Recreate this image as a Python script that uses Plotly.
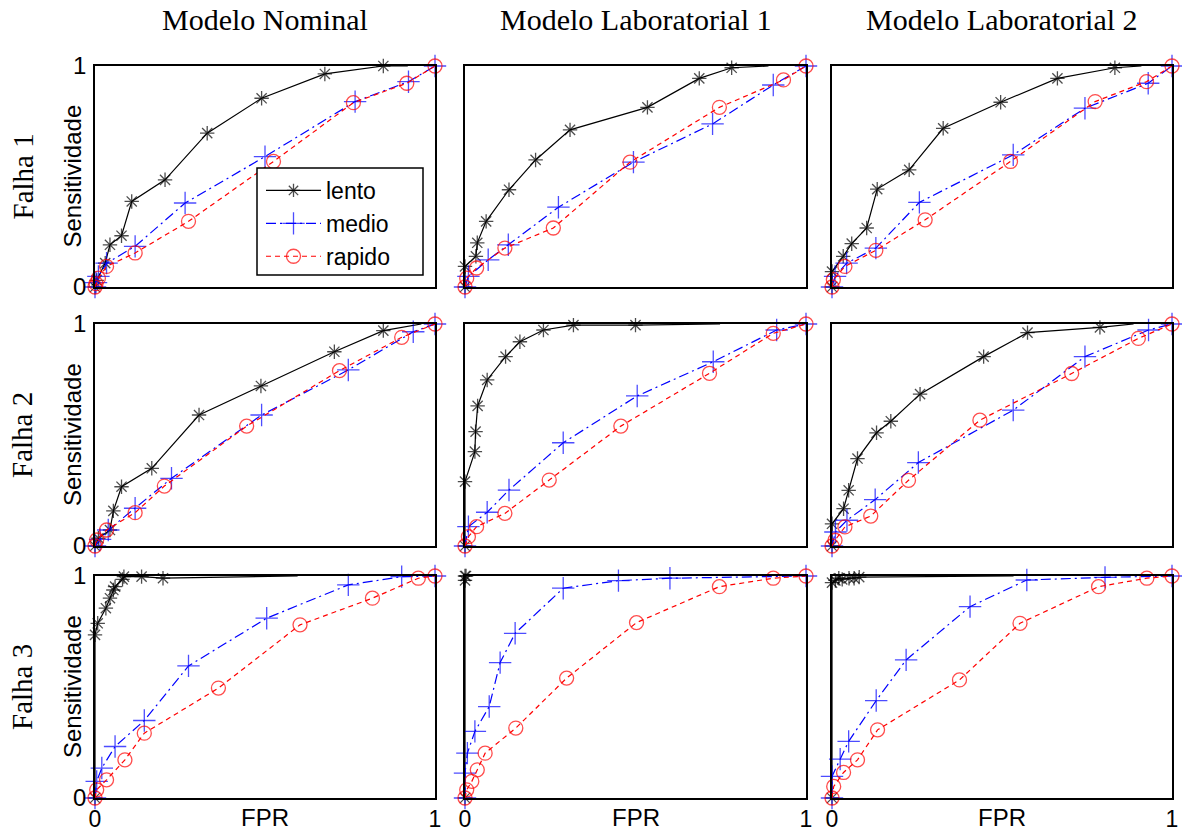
import plotly.graph_objects as go

# ---------------------------------------------------------------------------
# Page / labels
# ---------------------------------------------------------------------------
W, H = 1182, 834

MODELOS = ["Modelo Nominal", "Modelo Laboratorial 1", "Modelo Laboratorial 2"]
FALHAS = ["Falha 1", "Falha 2", "Falha 3"]
SERIES = ["lento", "medio", "rapido"]
TICK_VALS = [0, 1]
TICK_TEXT = ["0", "1"]
Y_LABEL = "Sensitividade"
X_LABEL = "FPR"

# ---------------------------------------------------------------------------
# ROC points (FPR, sensitividade) for each fault / model / speed.
# *_tail: FPR where the "lento" line ends along sens = 1 (no marker there).
# ---------------------------------------------------------------------------
# Falha 1 - Modelo Nominal
f1_nom_lento_fpr = [0, 0.005, 0.03, 0.044, 0.078, 0.108, 0.206, 0.33, 0.49, 0.676, 0.848]
f1_nom_lento_sens = [0, 0.03, 0.108, 0.191, 0.232, 0.387, 0.485, 0.696, 0.854, 0.964, 1.0]
f1_nom_lento_tail = 0.92
f1_nom_medio_fpr = [0, 0.003, 0.01, 0.034, 0.118, 0.265, 0.5, 0.765, 0.922, 1.0]
f1_nom_medio_sens = [0, 0.02, 0.048, 0.108, 0.184, 0.38, 0.59, 0.839, 0.929, 1.0]
f1_nom_rapido_fpr = [0, 0.003, 0.01, 0.034, 0.118, 0.275, 0.525, 0.76, 0.917, 1.0]
f1_nom_rapido_sens = [0, 0.015, 0.04, 0.093, 0.154, 0.297, 0.568, 0.834, 0.922, 1.0]

# Falha 1 - Modelo Laboratorial 1
f1_lab1_lento_fpr = [0, 0, 0.032, 0.036, 0.062, 0.129, 0.207, 0.308, 0.535, 0.687, 0.782]
f1_lab1_lento_sens = [0, 0.093, 0.139, 0.2, 0.297, 0.44, 0.575, 0.711, 0.813, 0.944, 0.992]
f1_lab1_lento_tail = 0.89
f1_lab1_medio_fpr = [0, 0.01, 0.068, 0.127, 0.274, 0.494, 0.726, 0.904, 1.0]
f1_lab1_medio_sens = [0, 0.048, 0.123, 0.191, 0.361, 0.565, 0.738, 0.914, 1.0]
f1_lab1_rapido_fpr = [0, 0.005, 0.034, 0.117, 0.259, 0.484, 0.746, 0.934, 1.0]
f1_lab1_rapido_sens = [0, 0.04, 0.086, 0.176, 0.267, 0.565, 0.813, 0.937, 1.0]

# Falha 1 - Modelo Laboratorial 2
f1_lab2_lento_fpr = [0, 0, 0.033, 0.058, 0.102, 0.133, 0.227, 0.327, 0.496, 0.663, 0.832]
f1_lab2_lento_sens = [0, 0.07, 0.139, 0.196, 0.267, 0.443, 0.53, 0.718, 0.836, 0.944, 0.992]
f1_lab2_lento_tail = 0.91
f1_lab2_medio_fpr = [0, 0.009, 0.043, 0.129, 0.257, 0.533, 0.744, 0.93, 1.0]
f1_lab2_medio_sens = [0, 0.048, 0.108, 0.176, 0.383, 0.598, 0.809, 0.922, 1.0]
f1_lab2_rapido_fpr = [0, 0.004, 0.038, 0.129, 0.274, 0.525, 0.774, 0.925, 1.0]
f1_lab2_rapido_sens = [0, 0.033, 0.093, 0.166, 0.304, 0.568, 0.839, 0.929, 1.0]

# Falha 2 - Modelo Nominal
f2_nom_lento_fpr = [0, 0.01, 0.044, 0.054, 0.078, 0.167, 0.306, 0.488, 0.704, 0.848]
f2_nom_lento_sens = [0, 0.035, 0.072, 0.158, 0.267, 0.35, 0.59, 0.721, 0.875, 0.97]
f2_nom_lento_tail = 0.96
f2_nom_medio_fpr = [0, 0.015, 0.039, 0.118, 0.225, 0.49, 0.745, 0.936, 1.0]
f2_nom_medio_sens = [0, 0.03, 0.072, 0.17, 0.305, 0.59, 0.793, 0.965, 1.0]
f2_nom_rapido_fpr = [0, 0.005, 0.034, 0.118, 0.204, 0.446, 0.719, 0.902, 1.0]
f2_nom_rapido_sens = [0, 0.027, 0.072, 0.15, 0.27, 0.54, 0.79, 0.94, 1.0]

# Falha 2 - Modelo Laboratorial 1
f2_lab1_lento_fpr = [0, 0, 0.029, 0.031, 0.037, 0.065, 0.119, 0.161, 0.23, 0.318, 0.5]
f2_lab1_lento_sens = [0, 0.29, 0.425, 0.515, 0.631, 0.748, 0.853, 0.92, 0.973, 0.995, 0.995]
f2_lab1_lento_tail = 0.748
f2_lab1_medio_fpr = [0, 0.01, 0.065, 0.129, 0.288, 0.505, 0.728, 0.914, 1.0]
f2_lab1_medio_sens = [0, 0.087, 0.152, 0.252, 0.465, 0.676, 0.83, 0.973, 1.0]
f2_lab1_rapido_fpr = [0, 0.01, 0.034, 0.117, 0.247, 0.457, 0.717, 0.904, 1.0]
f2_lab1_rapido_sens = [0, 0.042, 0.087, 0.147, 0.297, 0.54, 0.778, 0.958, 1.0]

# Falha 2 - Modelo Laboratorial 2
f2_lab2_lento_fpr = [0, 0, 0.034, 0.049, 0.075, 0.131, 0.173, 0.259, 0.446, 0.575, 0.788]
f2_lab2_lento_sens = [0, 0.1, 0.168, 0.251, 0.394, 0.51, 0.562, 0.684, 0.853, 0.961, 0.985]
f2_lab2_lento_tail = 0.887
f2_lab2_medio_fpr = [0, 0.01, 0.044, 0.127, 0.254, 0.533, 0.744, 0.931, 1.0]
f2_lab2_medio_sens = [0, 0.063, 0.116, 0.209, 0.376, 0.612, 0.853, 0.973, 1.0]
f2_lab2_rapido_fpr = [0, 0.009, 0.038, 0.114, 0.225, 0.435, 0.705, 0.901, 1.0]
f2_lab2_rapido_sens = [0, 0.026, 0.086, 0.135, 0.296, 0.567, 0.777, 0.935, 1.0]

# Falha 3 - Modelo Nominal
f3_nom_lento_fpr = [0, 0, 0.008, 0.032, 0.044, 0.054, 0.059, 0.081, 0.085, 0.137, 0.2]
f3_nom_lento_sens = [0, 0.735, 0.787, 0.855, 0.9, 0.937, 0.952, 0.985, 0.997, 0.997, 0.99]
f3_nom_lento_tail = 0.596
f3_nom_medio_fpr = [0, 0.005, 0.02, 0.059, 0.145, 0.275, 0.505, 0.745, 0.902, 1.0]
f3_nom_medio_sens = [0, 0.075, 0.135, 0.232, 0.349, 0.595, 0.81, 0.96, 0.997, 1.0]
f3_nom_rapido_fpr = [0, 0.005, 0.034, 0.088, 0.145, 0.363, 0.603, 0.816, 0.951, 1.0]
f3_nom_rapido_sens = [0, 0.037, 0.082, 0.172, 0.292, 0.495, 0.78, 0.9, 0.99, 1.0]

# Falha 3 - Modelo Laboratorial 1
f3_lab1_lento_fpr = [0, 0, 0, 0.003]
f3_lab1_lento_sens = [0, 0.98, 1.0, 1.0]
f3_lab1_lento_tail = None
f3_lab1_medio_fpr = [0, 0, 0.007, 0.029, 0.071, 0.103, 0.147, 0.288, 0.45, 0.601, 1.0]
f3_lab1_medio_sens = [0, 0.112, 0.202, 0.3, 0.412, 0.61, 0.742, 0.945, 0.979, 0.99, 1.0]
f3_lab1_rapido_fpr = [0, 0.005, 0.02, 0.036, 0.059, 0.149, 0.298, 0.503, 0.746, 0.904, 1.0]
f3_lab1_rapido_sens = [0, 0.037, 0.075, 0.127, 0.202, 0.315, 0.54, 0.79, 0.952, 0.99, 1.0]

# Falha 3 - Modelo Laboratorial 2
f3_lab2_lento_fpr = [0, 0, 0.01, 0.02, 0.03, 0.05, 0.065, 0.08]
f3_lab2_lento_sens = [0, 0.97, 0.98, 0.99, 0.985, 0.99, 0.99, 0.995]
f3_lab2_lento_tail = 0.534
f3_lab2_medio_fpr = [0, 0, 0.024, 0.049, 0.13, 0.218, 0.406, 0.573, 0.803, 1.0]
f3_lab2_medio_sens = [0, 0.097, 0.175, 0.255, 0.439, 0.622, 0.862, 0.982, 0.994, 1.0]
f3_lab2_rapido_fpr = [0, 0.005, 0.034, 0.075, 0.134, 0.375, 0.553, 0.784, 0.926, 1.0]
f3_lab2_rapido_sens = [0, 0.052, 0.115, 0.172, 0.307, 0.532, 0.787, 0.952, 0.99, 1.0]

# Grid of panels: rows = falhas, cols = modelos
PANELS = [
    [
        dict(lento=(f1_nom_lento_fpr, f1_nom_lento_sens, f1_nom_lento_tail),
             medio=(f1_nom_medio_fpr, f1_nom_medio_sens),
             rapido=(f1_nom_rapido_fpr, f1_nom_rapido_sens)),
        dict(lento=(f1_lab1_lento_fpr, f1_lab1_lento_sens, f1_lab1_lento_tail),
             medio=(f1_lab1_medio_fpr, f1_lab1_medio_sens),
             rapido=(f1_lab1_rapido_fpr, f1_lab1_rapido_sens)),
        dict(lento=(f1_lab2_lento_fpr, f1_lab2_lento_sens, f1_lab2_lento_tail),
             medio=(f1_lab2_medio_fpr, f1_lab2_medio_sens),
             rapido=(f1_lab2_rapido_fpr, f1_lab2_rapido_sens)),
    ],
    [
        dict(lento=(f2_nom_lento_fpr, f2_nom_lento_sens, f2_nom_lento_tail),
             medio=(f2_nom_medio_fpr, f2_nom_medio_sens),
             rapido=(f2_nom_rapido_fpr, f2_nom_rapido_sens)),
        dict(lento=(f2_lab1_lento_fpr, f2_lab1_lento_sens, f2_lab1_lento_tail),
             medio=(f2_lab1_medio_fpr, f2_lab1_medio_sens),
             rapido=(f2_lab1_rapido_fpr, f2_lab1_rapido_sens)),
        dict(lento=(f2_lab2_lento_fpr, f2_lab2_lento_sens, f2_lab2_lento_tail),
             medio=(f2_lab2_medio_fpr, f2_lab2_medio_sens),
             rapido=(f2_lab2_rapido_fpr, f2_lab2_rapido_sens)),
    ],
    [
        dict(lento=(f3_nom_lento_fpr, f3_nom_lento_sens, f3_nom_lento_tail),
             medio=(f3_nom_medio_fpr, f3_nom_medio_sens),
             rapido=(f3_nom_rapido_fpr, f3_nom_rapido_sens)),
        dict(lento=(f3_lab1_lento_fpr, f3_lab1_lento_sens, f3_lab1_lento_tail),
             medio=(f3_lab1_medio_fpr, f3_lab1_medio_sens),
             rapido=(f3_lab1_rapido_fpr, f3_lab1_rapido_sens)),
        dict(lento=(f3_lab2_lento_fpr, f3_lab2_lento_sens, f3_lab2_lento_tail),
             medio=(f3_lab2_medio_fpr, f3_lab2_medio_sens),
             rapido=(f3_lab2_rapido_fpr, f3_lab2_rapido_sens)),
    ],
]

# ---------------------------------------------------------------------------
# Styling
# ---------------------------------------------------------------------------
SERIF = "Liberation Serif, Times New Roman, serif"
SANS = "Liberation Sans, Arial, sans-serif"

STYLE = {
    "lento": dict(color="#000000", dash="solid", symbol="asterisk-open", size=12),
    "medio": dict(color="#0000FF", dash="10px,4px,2px,4px", symbol="cross-thin-open", size=16),
    "rapido": dict(color="#FF0000", dash="5px,4px", symbol="circle-open", size=14),
}

# panel boxes in pixels (left, right) and (top, bottom)
COL_PX = [(95, 435), (465, 806), (832, 1172)]
ROW_PX = [(66, 287), (324, 546), (576, 798)]
# legend frame in pixels (left, top, right, bottom)
LEGEND_BOX = (257, 168, 423, 275)


def px_x(v):
    return v / W


def px_y(v):
    return 1 - v / H


fig = go.Figure()

for r in range(3):
    for c in range(3):
        k = r * 3 + c + 1
        xa = "x" if k == 1 else f"x{k}"
        ya = "y" if k == 1 else f"y{k}"
        panel = PANELS[r][c]
        for name in SERIES:
            st = STYLE[name]
            entry = panel[name]
            xs, ys = list(entry[0]), list(entry[1])
            sizes = [st["size"]] * len(xs)
            if name == "lento" and entry[2] is not None:
                xs.append(entry[2])
                ys.append(1.0)
                sizes.append(0)
            fig.add_trace(go.Scatter(
                x=xs, y=ys, xaxis=xa, yaxis=ya,
                mode="lines+markers", name=name,
                showlegend=(k == 1),
                cliponaxis=False,
                line=dict(color=st["color"], width=1.2, dash=st["dash"]),
                marker=dict(symbol=st["symbol"], size=sizes, color=st["color"],
                            line=dict(color=st["color"], width=1.3)),
            ))

        l, rr = COL_PX[c]
        t, b = ROW_PX[r]
        axis_common = dict(
            range=[0, 1], showgrid=False, zeroline=False, automargin=False,
            showline=True, mirror=True, linecolor="#000000", linewidth=1.5,
            tickvals=TICK_VALS, ticktext=TICK_TEXT, ticks="",
        )
        fig.layout[("xaxis" if k == 1 else f"xaxis{k}")] = dict(
            axis_common, domain=[px_x(l), px_x(rr)], anchor=ya,
            showticklabels=(r == 2), ticklabelstandoff=0,
            tickfont=dict(family=SANS, size=23, color="#000000"),
        )
        fig.layout[("yaxis" if k == 1 else f"yaxis{k}")] = dict(
            axis_common, domain=[px_y(b), px_y(t)], anchor=xa,
            showticklabels=(c == 0), ticklabelstandoff=2,
            tickfont=dict(family=SANS, size=24, color="#000000"),
        )

annotations = []
for c, titulo in enumerate(MODELOS):
    l, rr = COL_PX[c]
    annotations.append(dict(
        text=titulo, x=px_x((l + rr) / 2), y=px_y(20), xref="paper", yref="paper",
        showarrow=False, xanchor="center", yanchor="middle",
        font=dict(family=SERIF, size=30, color="#000000"),
    ))
    annotations.append(dict(
        text=X_LABEL, x=px_x((l + rr) / 2), y=px_y(817), xref="paper", yref="paper",
        showarrow=False, xanchor="center", yanchor="middle",
        font=dict(family=SANS, size=24, color="#000000"),
    ))
for r, falha in enumerate(FALHAS):
    t, b = ROW_PX[r]
    annotations.append(dict(
        text=falha, x=px_x(22), y=px_y((t + b) / 2), xref="paper", yref="paper",
        showarrow=False, xanchor="center", yanchor="middle", textangle=-90,
        font=dict(family=SERIF, size=29, color="#000000"),
    ))
    annotations.append(dict(
        text=Y_LABEL, x=px_x(72), y=px_y((t + b) / 2), xref="paper", yref="paper",
        showarrow=False, xanchor="center", yanchor="middle", textangle=-90,
        font=dict(family=SANS, size=24, color="#000000"),
    ))

# white framed box behind the legend entries (drawn over the curves)
lb_l, lb_t, lb_r, lb_b = LEGEND_BOX
legend_frame = dict(
    type="rect", xref="paper", yref="paper", layer="above",
    x0=px_x(lb_l), x1=px_x(lb_r), y0=px_y(lb_b), y1=px_y(lb_t),
    fillcolor="#FFFFFF", line=dict(color="#000000", width=1.5),
)

fig.update_layout(
    width=W, height=H,
    margin=dict(l=0, r=0, t=0, b=0, pad=0, autoexpand=False),
    paper_bgcolor="#FFFFFF", plot_bgcolor="#FFFFFF",
    annotations=annotations,
    shapes=[legend_frame],
    legend=dict(
        x=px_x(lb_l + 4), y=px_y(lb_t + 1), xanchor="left", yanchor="top",
        bgcolor="rgba(0,0,0,0)", borderwidth=0,
        font=dict(family=SANS, size=23, color="#000000"),
        itemwidth=55, tracegroupgap=0,
    ),
)

fig.write_html("out.html")
